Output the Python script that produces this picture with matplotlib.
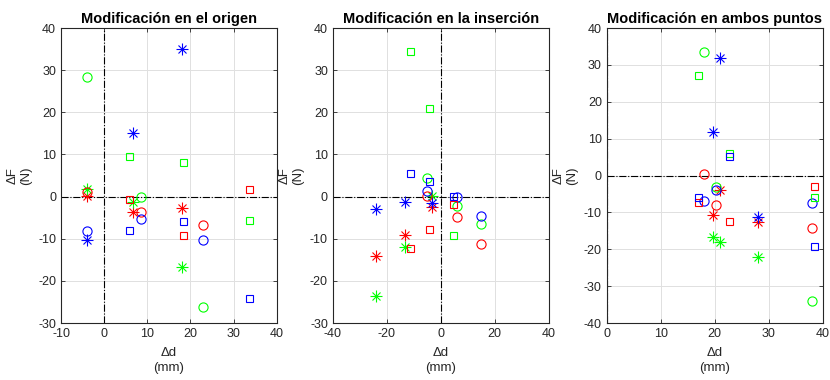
import matplotlib
matplotlib.use("Agg")
import matplotlib.pyplot as plt

plt.rcParams["font.family"] = ["Liberation Sans", "DejaVu Sans"]
plt.rcParams["axes.unicode_minus"] = False

# --- Modificación en el origen ---
orig_x_star = [-4.0, 6.7, 18.0]
orig_x_circ = [-4.0, 8.6, 23.0]
orig_x_sq = [5.8, 18.3, 33.6]
orig_red_star = [0.2, -3.6, -2.6]
orig_green_star = [1.8, -1.2, -16.8]
orig_blue_star = [-10.4, 15.2, 35.0]
orig_red_circ = [1.0, -3.6, -6.7]
orig_green_circ = [28.3, 0.0, -26.1]
orig_blue_circ = [-8.1, -5.4, -10.2]
orig_red_sq = [-0.5, -9.1, 1.9]
orig_green_sq = [9.7, 8.3, -5.6]
orig_blue_sq = [-7.9, -5.9, -24.1]

# --- Modificación en la inserción ---
ins_x_star = [-24.0, -13.3, -3.4]
ins_x_circ = [-5.2, 5.9, 15.1]
ins_x_sq = [-11.4, -4.4, 4.6]
ins_red_star = [-14.0, -9.1, -2.5]
ins_green_star = [-23.5, -11.9, 0.2]
ins_blue_star = [-2.9, -1.2, -1.5]
ins_red_circ = [0.2, -4.8, -11.2]
ins_green_circ = [4.5, -2.3, -6.6]
ins_blue_circ = [1.4, -0.2, -4.7]
ins_red_sq = [-12.1, -7.6, -1.8]
ins_green_sq = [34.5, 21.0, -9.1]
ins_blue_sq = [5.5, 3.8, 0.2]

# --- Modificación en ambos puntos ---
amb_x_star = [19.7, 21.0, 28.0]
amb_x_circ = [18.1, 20.3, 38.1]
amb_x_sq = [17.0, 22.7, 38.4]
amb_red_star = [-10.6, -3.9, -12.7]
amb_green_star = [-16.8, -17.9, -22.0]
amb_blue_star = [11.7, 32.0, -11.3]
amb_red_circ = [0.4, -7.9, -14.3]
amb_green_circ = [33.6, -3.1, -34.0]
amb_blue_circ = [-7.0, -3.9, -7.5]
amb_red_sq = [-7.3, -12.4, -2.7]
amb_green_sq = [27.4, 6.2, -5.9]
amb_blue_sq = [-5.9, 5.4, -19.0]

titles = ["Modificación en el origen", "Modificación en la inserción",
          "Modificación en ambos puntos"]

panels = [
    (orig_x_star, orig_x_circ, orig_x_sq,
     [orig_red_star, orig_green_star, orig_blue_star],
     [orig_red_circ, orig_green_circ, orig_blue_circ],
     [orig_red_sq, orig_green_sq, orig_blue_sq],
     (-10, 40), (-30, 40)),
    (ins_x_star, ins_x_circ, ins_x_sq,
     [ins_red_star, ins_green_star, ins_blue_star],
     [ins_red_circ, ins_green_circ, ins_blue_circ],
     [ins_red_sq, ins_green_sq, ins_blue_sq],
     (-40, 40), (-30, 40)),
    (amb_x_star, amb_x_circ, amb_x_sq,
     [amb_red_star, amb_green_star, amb_blue_star],
     [amb_red_circ, amb_green_circ, amb_blue_circ],
     [amb_red_sq, amb_green_sq, amb_blue_sq],
     (0, 40), (-40, 40)),
]

colors = ["#ff0000", "#00ff00", "#0000ff"]
lefts = [0.0735, 0.401, 0.731]
dark = "#262626"

fig = plt.figure(figsize=(8.3, 3.8), dpi=100)

for i, (xs, xc, xq, ys, yc, yq, xlim, ylim) in enumerate(panels):
    ax = fig.add_axes([lefts[i], 0.15, 0.260, 0.776])
    ax.axhline(0, color="k", ls="-.", lw=0.8, zorder=1)
    ax.axvline(0, color="k", ls="-.", lw=0.8, zorder=1)
    # asterisco estilo MATLAB: '+' y 'x' superpuestos
    for c, y in zip(colors, ys):
        ax.plot(xs, y, ls="none", marker="+", ms=8, mec=c, mew=0.8, zorder=3)
        ax.plot(xs, y, ls="none", marker="x", ms=5.6, mec=c, mew=0.8, zorder=3)
    for c, y in zip(colors, yc):
        ax.plot(xc, y, ls="none", marker="o", ms=6.6, mfc="none", mec=c,
                mew=0.8, zorder=3)
    for c, y in zip(colors, yq):
        ax.plot(xq, y, ls="none", marker="s", ms=5.04, mfc="none", mec=c,
                mew=0.8, zorder=3)
    ax.set_xlim(*xlim)
    ax.set_ylim(*ylim)
    ax.grid(True, color="#e0e0e0", lw=0.7)
    ax.set_axisbelow(True)
    ax.tick_params(direction="in", top=True, right=True, labelsize=9,
                   colors=dark, length=3, width=0.6)
    for sp in ax.spines.values():
        sp.set_color(dark)
        sp.set_linewidth(0.8)
    ax.set_title(titles[i], fontsize=10.5, fontweight="bold", pad=4)
    ax.set_xlabel("Δd\n(mm)", fontsize=9.5, color=dark, linespacing=1.35,
                  labelpad=5)
    ax.set_ylabel("ΔF\n(N)", fontsize=9.5, color=dark, linespacing=1.2)

fig.savefig("out.png", dpi=100)
